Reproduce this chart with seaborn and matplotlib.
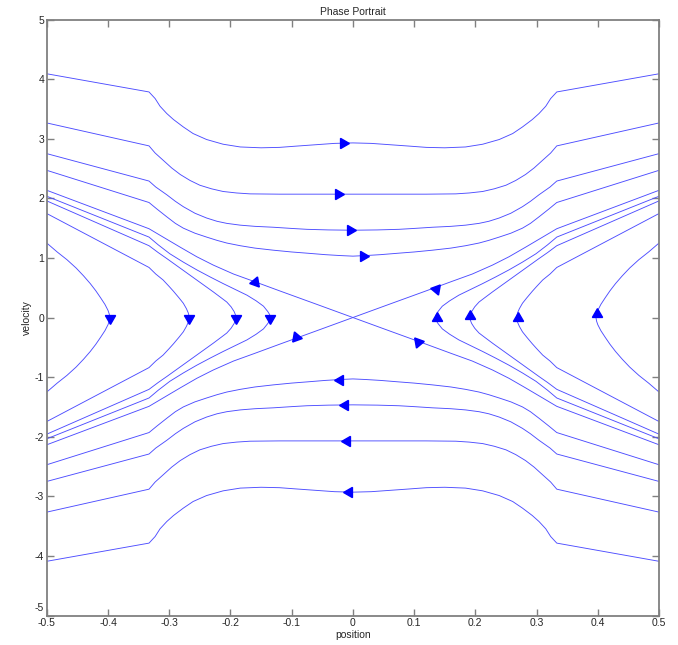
"""Phase portrait (saddle with kinks at |x| = 1/3)"""
import numpy as np
import pandas as pd
import matplotlib
matplotlib.use('Agg')
import matplotlib.pyplot as plt
import matplotlib.transforms as mtransforms
import seaborn as sns

sns.set_style('ticks')
plt.rcParams['font.family'] = ['Liberation Sans', 'DejaVu Sans']
plt.rcParams['axes.unicode_minus'] = False

# --- half curves (upper-left part, x <= 0) ---
# curves that cross over the top (and, mirrored, the bottom)
cross1_x = [-0.5, -0.333, -0.323, -0.315, -0.304, -0.293, -0.277, -0.261, -0.239, -0.212,
            -0.184, -0.15, -0.12, -0.09, -0.06, -0.03, 0.0]
cross1_v = [4.09, 3.785, 3.674, 3.545, 3.423, 3.322, 3.198, 3.087, 2.987, 2.908,
            2.862, 2.848, 2.855, 2.878, 2.90, 2.922, 2.93]
cross2_x = [-0.5, -0.333, -0.323, -0.310, -0.296, -0.282, -0.266, -0.250, -0.231, -0.212,
            -0.19, -0.168, -0.12, 0.0]
cross2_v = [3.265, 2.88, 2.76, 2.64, 2.51, 2.40, 2.30, 2.22, 2.16, 2.115,
            2.09, 2.075, 2.07, 2.07]
cross3_x = [-0.5, -0.333, -0.322, -0.304, -0.29, -0.277, -0.258, -0.239, -0.222, -0.206,
            -0.184, -0.16, -0.13, -0.1, -0.075, -0.04, 0.0]
cross3_v = [2.75, 2.29, 2.19, 2.06, 1.95, 1.86, 1.75, 1.67, 1.615, 1.58,
            1.55, 1.53, 1.515, 1.495, 1.48, 1.47, 1.465]
cross4_x = [-0.5, -0.333, -0.32, -0.304, -0.29, -0.277, -0.258, -0.239, -0.222, -0.206,
            -0.184, -0.16, -0.13, -0.1, -0.075, -0.045, -0.021, 0.0]
cross4_v = [2.47, 1.93, 1.82, 1.69, 1.58, 1.50, 1.415, 1.35, 1.295, 1.25,
            1.205, 1.165, 1.13, 1.10, 1.08, 1.055, 1.04, 1.03]

# separatrix coming in from the upper left to the saddle
sep_x = [-0.5, -0.333, -0.31, -0.282, -0.255, -0.228, -0.195, -0.160, -0.119, -0.06, 0.0]
sep_v = [2.135, 1.49, 1.35, 1.18, 1.02, 0.88, 0.73, 0.60, 0.445, 0.225, 0.0]

# curves turning back on the left side (upper half, down to v = 0)
turn1_x = [-0.5, -0.333, -0.318, -0.299, -0.277, -0.255, -0.233, -0.212, -0.192, -0.173,
           -0.158, -0.146, -0.139, -0.136, -0.135]
turn1_v = [2.035, 1.35, 1.22, 1.07, 0.93, 0.80, 0.68, 0.57, 0.47, 0.375,
           0.28, 0.19, 0.10, 0.05, 0.0]
turn2_x = [-0.5, -0.333, -0.318, -0.304, -0.285, -0.266, -0.247, -0.228, -0.215, -0.206,
           -0.199, -0.194, -0.192, -0.191]
turn2_v = [1.957, 1.205, 1.09, 0.99, 0.85, 0.71, 0.57, 0.43, 0.33, 0.26,
           0.18, 0.10, 0.05, 0.0]
turn3_x = [-0.5, -0.333, -0.322, -0.310, -0.30, -0.293, -0.284, -0.277, -0.272, -0.269, -0.267]
turn3_v = [1.745, 0.84, 0.73, 0.63, 0.52, 0.44, 0.33, 0.24, 0.15, 0.08, 0.0]
turn4_x = [-0.5, -0.483, -0.467, -0.452, -0.44, -0.429, -0.42, -0.412, -0.405, -0.40, -0.398, -0.397]
turn4_v = [1.25, 1.10, 0.97, 0.83, 0.70, 0.57, 0.45, 0.33, 0.22, 0.12, 0.06, 0.0]

# arrow heads: position and marker angle
arrow_x = [-0.016, -0.025, -0.005, 0.017,
           -0.006, -0.010, -0.013, -0.021,
           -0.397, -0.267, -0.191, -0.135,
           0.137, 0.191, 0.270, 0.398,
           -0.160, -0.093, 0.136, 0.106]
arrow_v = [2.93, 2.07, 1.465, 1.03,
           -2.93, -2.07, -1.47, -1.04,
           0.0, 0.0, 0.0, 0.0,
           -0.01, 0.02, 0.0, 0.055,
           0.60, -0.33, 0.475, -0.41]
arrow_ang = [-90, -90, -90, -90,
             90, 90, 90, 90,
             180, 180, 180, 180,
             0, 0, 0, 0,
             -20, 20, 200, 160]

# --- build the full trajectories using the two symmetries of the picture ---
rows = []
cid = 0


def add(xs, vs):
    global cid
    for a, b in zip(xs, vs):
        rows.append((cid, a, b))
    cid += 1


for hx, hv in [(cross1_x, cross1_v), (cross2_x, cross2_v),
               (cross3_x, cross3_v), (cross4_x, cross4_v)]:
    hx, hv = np.array(hx), np.array(hv)
    fx = np.concatenate([hx, -hx[::-1][1:]])
    fv = np.concatenate([hv, hv[::-1][1:]])
    add(fx, fv)
    add(fx, -fv)

sx, sv = np.array(sep_x), np.array(sep_v)
stab_x = np.concatenate([sx, -sx[::-1][1:]])
stab_v = np.concatenate([sv, -sv[::-1][1:]])
add(stab_x, stab_v)
add(-stab_x, stab_v)

for hx, hv in [(turn1_x, turn1_v), (turn2_x, turn2_v),
               (turn3_x, turn3_v), (turn4_x, turn4_v)]:
    hx, hv = np.array(hx), np.array(hv)
    fx = np.concatenate([hx, hx[::-1][1:]])
    fv = np.concatenate([hv, -hv[::-1][1:]])
    add(fx, fv)
    add(-fx, fv)

df = pd.DataFrame(rows, columns=['curve', 'position', 'velocity'])

fig = plt.figure(figsize=(6.78, 6.45), dpi=100)
ax = fig.add_axes([0.069, 0.0457, 0.903, 0.924])

sns.lineplot(data=df, x='position', y='velocity', units='curve', estimator=None,
             sort=False, color='#4d4dff', linewidth=0.65, ax=ax, legend=False)

for xa, va, an in zip(arrow_x, arrow_v, arrow_ang):
    ax.plot(xa, va, marker=(3, 0, an), markersize=8.5, color='blue',
            markeredgecolor='blue', linestyle='none')

ax.set_xlim(-0.5, 0.5)
ax.set_ylim(-5, 5)
xt = [-0.5, -0.4, -0.3, -0.2, -0.1, 0, 0.1, 0.2, 0.3, 0.4, 0.5]
ax.set_xticks(xt)
ax.set_xticklabels(['-0.5', '-0.4', '-0.3', '-0.2', '-0.1', '0', '0.1', '0.2', '0.3', '0.4', '0.5'])
yt = [-5, -4, -3, -2, -1, 0, 1, 2, 3, 4, 5]
ax.set_yticks(yt)
ax.set_yticklabels([str(t) for t in yt])
ax.tick_params(direction='in', length=5, width=1, color='#808080', labelsize=7.5,
               top=True, right=True, pad=2)
for s in ax.spines.values():
    s.set_visible(True)
    s.set_color('#808080')
    s.set_linewidth(1.3)

# MATLAB puts the lowest y label a little higher
lab = ax.get_yticklabels()[0]
lab.set_transform(lab.get_transform() + mtransforms.ScaledTranslation(0, 6 / 72, fig.dpi_scale_trans))

ax.set_xlabel('position', fontsize=7.5, labelpad=1)
ax.set_ylabel('velocity', fontsize=7.5, labelpad=2)
ax.set_title('Phase Portrait', fontsize=7.5, pad=3)

fig.savefig('out.png', dpi=100)
